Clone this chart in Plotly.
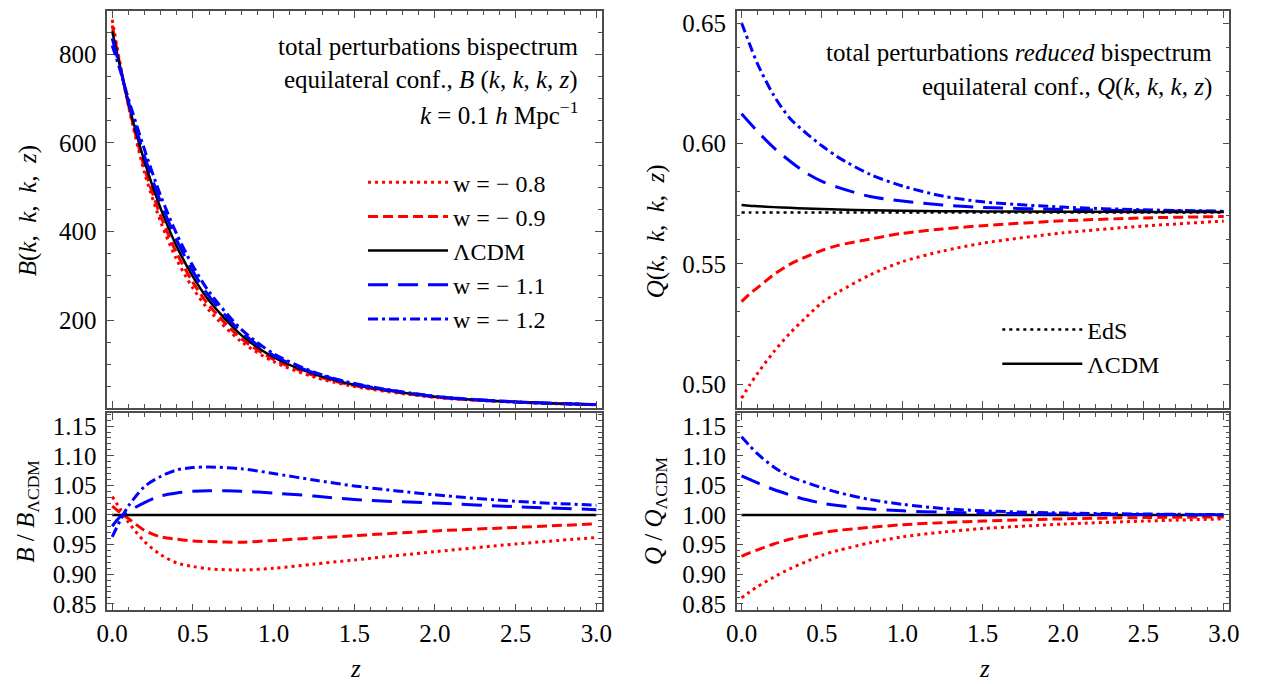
import plotly.graph_objects as go

# ---------------- data ----------------
z = [0.0, 0.05, 0.1, 0.2, 0.3, 0.4, 0.5, 0.6, 0.8, 1.0, 1.25, 1.5, 2.0, 2.5, 3.0]

# bispectrum B(k,k,k,z)
B_w08 = [878, 777, 684, 533, 422, 336, 272, 222, 151, 106, 71.5, 49.9, 25.3, 14.3, 8.7]
B_w09 = [865, 773, 687, 543, 435, 351, 285, 233, 158, 111, 75.0, 52.1, 26.3, 14.7, 8.9]
B_lcdm = [852, 770, 690, 558, 452, 366, 298, 244, 166, 116, 78.0, 54.0, 27.0, 15.0, 9.0]
B_w11 = [836, 768, 694, 570, 466, 380, 310, 254, 173, 120, 80.5, 55.4, 27.5, 15.2, 9.1]
B_w12 = [820, 763, 700, 585, 481, 394, 322, 264, 179, 124, 82.6, 56.6, 27.9, 15.3, 9.1]

# ratio B / B_LCDM
RB_w08 = [1.031, 1.010, 0.988, 0.955, 0.933, 0.919, 0.913, 0.909, 0.907, 0.910, 0.917, 0.924, 0.938, 0.951, 0.962]
RB_w09 = [1.015, 1.004, 0.994, 0.974, 0.963, 0.959, 0.956, 0.955, 0.954, 0.957, 0.961, 0.965, 0.973, 0.979, 0.985]
RB_lcdm = [1.0, 1.0, 1.0, 1.0, 1.0, 1.0, 1.0, 1.0, 1.0, 1.0, 1.0, 1.0, 1.0, 1.0, 1.0]
RB_w11 = [0.981, 0.997, 1.006, 1.021, 1.032, 1.037, 1.040, 1.041, 1.040, 1.037, 1.032, 1.026, 1.020, 1.014, 1.009]
RB_w12 = [0.963, 0.991, 1.015, 1.048, 1.065, 1.076, 1.080, 1.081, 1.078, 1.070, 1.059, 1.049, 1.034, 1.023, 1.0165]

# reduced bispectrum Q(k,k,k,z)
Q_eds = [0.5714, 0.5714, 0.5714, 0.5714, 0.5714, 0.5714, 0.5714, 0.5714, 0.5714, 0.5714, 0.5714, 0.5714, 0.5714, 0.5714, 0.5714]
Q_lcdm = [0.5745, 0.5742, 0.5740, 0.5736, 0.5733, 0.5730, 0.5728, 0.5726, 0.5723, 0.5721, 0.5719, 0.5718, 0.5717, 0.5716, 0.5716]
Q_w12 = [0.6503, 0.6414, 0.6331, 0.6201, 0.6106, 0.6045, 0.5991, 0.5944, 0.5872, 0.5824, 0.5782, 0.5758, 0.5736, 0.5725, 0.5719]
Q_w11 = [0.6124, 0.6087, 0.6050, 0.5983, 0.5928, 0.5879, 0.5843, 0.5818, 0.5780, 0.5761, 0.5745, 0.5735, 0.5726, 0.5721, 0.5718]
Q_w09 = [0.5343, 0.5375, 0.5401, 0.5455, 0.5498, 0.5529, 0.5556, 0.5577, 0.5603, 0.5627, 0.5645, 0.5659, 0.5679, 0.5691, 0.5697]
Q_w08 = [0.4941, 0.4996, 0.5045, 0.5134, 0.5211, 0.5277, 0.5339, 0.5382, 0.5454, 0.5509, 0.5553, 0.5586, 0.5629, 0.5657, 0.5678]

# ratio Q / Q_LCDM
RQ_w12 = [1.132, 1.117, 1.103, 1.081, 1.065, 1.055, 1.046, 1.038, 1.026, 1.018, 1.011, 1.007, 1.0033, 1.0016, 1.0006]
RQ_w11 = [1.066, 1.060, 1.054, 1.043, 1.034, 1.026, 1.020, 1.016, 1.010, 1.007, 1.0045, 1.003, 1.0016, 1.0008, 1.0004]
RQ_lcdm = [1.0, 1.0, 1.0, 1.0, 1.0, 1.0, 1.0, 1.0, 1.0, 1.0, 1.0, 1.0, 1.0, 1.0, 1.0]
RQ_w09 = [0.930, 0.936, 0.941, 0.951, 0.959, 0.965, 0.970, 0.974, 0.979, 0.9835, 0.987, 0.9896, 0.9934, 0.9956, 0.9967]
RQ_w08 = [0.860, 0.870, 0.879, 0.895, 0.909, 0.921, 0.932, 0.940, 0.953, 0.963, 0.971, 0.977, 0.9846, 0.9896, 0.9934]

names = ["w = − 0.8", "w = − 0.9", "ΛCDM", "w = − 1.1", "w = − 1.2"]

# ---------------- styles ----------------
RED = "#FF0000"
BLUE = "#0000FF"
BLACK = "#000000"
st = {
    "w08": dict(color=RED, width=3, dash="3px,4px"),
    "w09": dict(color=RED, width=3, dash="10px,5px"),
    "lcdm": dict(color=BLACK, width=2.5, dash="solid"),
    "w11": dict(color=BLUE, width=3, dash="20px,10px"),
    "w12": dict(color=BLUE, width=3, dash="10px,4px,3px,4px"),
    "eds": dict(color=BLACK, width=2.5, dash="3px,4px"),
}

FONT = "Liberation Serif"
W, H = 1262, 684

fig = go.Figure()


def add(y, key, xa, ya, name=None, legend=None):
    fig.add_trace(go.Scatter(
        x=z, y=y, mode="lines", line=dict(shape="spline", smoothing=0.8, **st[key]),
        xaxis=xa, yaxis=ya, name=name if name else key,
        showlegend=legend is not None, legend=legend if legend else "legend",
        hoverinfo="skip"))


# top-left
for y, k, n in [(B_w08, "w08", names[0]), (B_w09, "w09", names[1]), (B_lcdm, "lcdm", names[2]),
                (B_w11, "w11", names[3]), (B_w12, "w12", names[4])]:
    add(y, k, "x", "y", n, "legend")
# bottom-left
for y, k in [(RB_w08, "w08"), (RB_w09, "w09"), (RB_lcdm, "lcdm"), (RB_w11, "w11"), (RB_w12, "w12")]:
    add(y, k, "x2", "y2")
# top-right
add(Q_w08, "w08", "x3", "y3")
add(Q_w09, "w09", "x3", "y3")
add(Q_w11, "w11", "x3", "y3")
add(Q_w12, "w12", "x3", "y3")
add(Q_eds, "eds", "x3", "y3", "EdS", "legend2")
add(Q_lcdm, "lcdm", "x3", "y3", "ΛCDM", "legend2")
# bottom-right
for y, k in [(RQ_w08, "w08"), (RQ_w09, "w09"), (RQ_lcdm, "lcdm"), (RQ_w11, "w11"), (RQ_w12, "w12")]:
    add(y, k, "x4", "y4")

# ---------------- axes ----------------
XL = [98 / W, 601 / W]
XR = [738 / W, 1239 / W]
YT = [(H - 412) / H, (H - 10) / H]
YB = [(H - 616.5) / H, (H - 417) / H]
FRAME = "#4d4d4d"
TICKFONT = dict(family=FONT, size=25, color=BLACK)

common = dict(showline=True, linecolor=FRAME, linewidth=1.5, mirror="allticks",
              ticks="inside", ticklen=7, tickwidth=1, tickcolor=FRAME,
              showgrid=False, zeroline=False, tickfont=TICKFONT,
              minor=dict(ticks="inside", ticklen=4, tickwidth=1, tickcolor=FRAME, showgrid=False))

xcommon = dict(common, range=[-0.03, 3.035], tickvals=[0, 0.5, 1.0, 1.5, 2.0, 2.5, 3.0],
               tickformat=".1f")
xcommon["minor"] = dict(common["minor"], dtick=0.1, tick0=0)
ycommon = dict(common, ticklabelstandoff=4)

fig.update_layout(
    xaxis=dict(xcommon, domain=XL, anchor="y", showticklabels=False),
    xaxis2=dict(xcommon, domain=XL, anchor="y2"),
    xaxis3=dict(xcommon, domain=XR, anchor="y3", showticklabels=False),
    xaxis4=dict(xcommon, domain=XR, anchor="y4"),
    yaxis=dict(ycommon, domain=YT, anchor="x", range=[1, 898], tickvals=[200, 400, 600, 800],
               minor=dict(common["minor"], dtick=50, tick0=0)),
    yaxis2=dict(ycommon, domain=YB, anchor="x2", range=[0.839, 1.172], tickformat=".2f",
                tickvals=[0.85, 0.90, 0.95, 1.00, 1.05, 1.10, 1.15],
                minor=dict(common["minor"], dtick=0.01, tick0=0.85)),
    yaxis3=dict(ycommon, domain=YT, anchor="x3", range=[0.49, 0.6552], tickformat=".2f",
                tickvals=[0.50, 0.55, 0.60, 0.65],
                minor=dict(common["minor"], dtick=0.01, tick0=0.5)),
    yaxis4=dict(ycommon, domain=YB, anchor="x4", range=[0.839, 1.172], tickformat=".2f",
                tickvals=[0.85, 0.90, 0.95, 1.00, 1.05, 1.10, 1.15],
                minor=dict(common["minor"], dtick=0.01, tick0=0.85)),
)

# ---------------- legends ----------------
legfont = dict(family=FONT, size=24, color=BLACK)
fig.update_layout(
    legend=dict(x=358 / W, xanchor="left", y=1 - 161 / H, yanchor="top", font=legfont,
                bgcolor="rgba(0,0,0,0)", borderwidth=0, itemwidth=80, tracegroupgap=0,
                traceorder="normal"),
    legend2=dict(x=1003 / W, xanchor="left", y=1 - 310 / H, yanchor="top", font=legfont,
                 bgcolor="rgba(0,0,0,0)", borderwidth=0, itemwidth=80, traceorder="normal"),
)

# ---------------- annotations ----------------
ann = []
tf = dict(family=FONT, size=25, color=BLACK)


def txt(x, y, s, xanchor="right", angle=0):
    ann.append(dict(x=x / W, y=1 - y / H, xref="paper", yref="paper", text=s, showarrow=False,
                    xanchor=xanchor, yanchor="middle", font=tf, textangle=angle))


txt(579, 46, "total perturbations bispectrum")
txt(579, 80, "equilateral conf., <i>B</i> (<i>k</i>, <i>k</i>, <i>k</i>, <i>z</i>)")
txt(579, 113, "<i>k</i> = 0.1 <i>h</i> Mpc<sup>−1</sup>")
txt(1223, 52, "total perturbations <i>reduced</i> bispectrum")
txt(1223, 87, "equilateral conf., <i>Q</i>(<i>k</i>, <i>k</i>, <i>k</i>, <i>z</i>)")
txt(17, 212, "<i>B</i>(<i>k</i>,  <i>k</i>,  <i>k</i>,  <i>z</i>)", "center", -90)
txt(17, 516, "<i>B</i> / <i>B</i><sub>ΛCDM</sub>", "center", -90)
txt(656, 233, "<i>Q</i>(<i>k</i>,  <i>k</i>,  <i>k</i>,  <i>z</i>)", "center", -90)
txt(656, 516, "<i>Q</i> / <i>Q</i><sub>ΛCDM</sub>", "center", -90)
txt(350, 675, "<i>z</i>", "center")
txt(990, 675, "<i>z</i>", "center")

fig.update_layout(annotations=ann, width=W, height=H,
                  margin=dict(l=0, r=0, t=0, b=0),
                  paper_bgcolor="white", plot_bgcolor="white",
                  font=dict(family=FONT, color=BLACK))

fig.write_html("out.html")
